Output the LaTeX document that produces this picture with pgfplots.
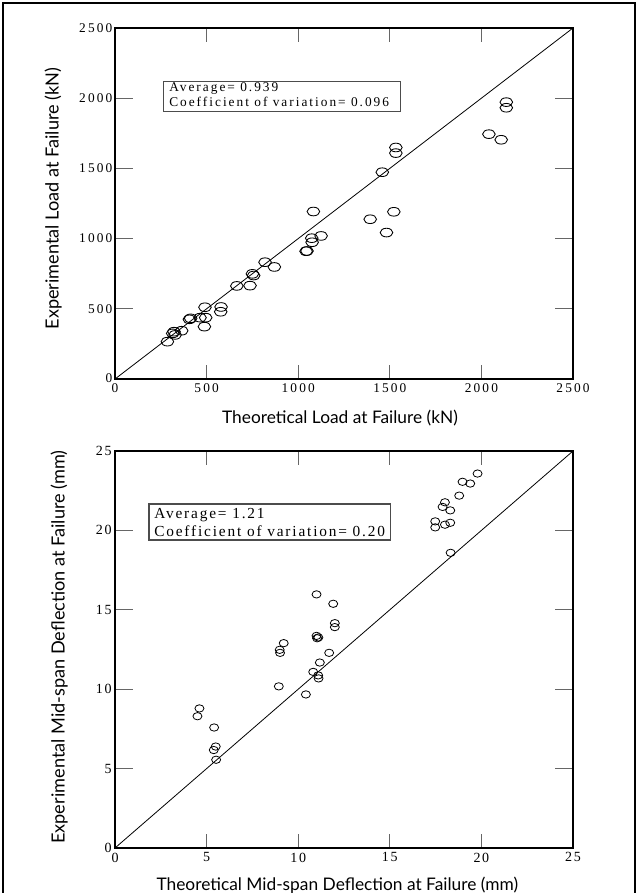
\documentclass[border=0pt]{standalone}
\usepackage{pgfplots}
\pgfplotsset{compat=1.18}
\usepackage{fontspec}
\setmainfont{Liberation Serif}
\newfontfamily\labfont{Lato}
\newfontfamily\tickA[LetterSpace=16]{Liberation Serif}
\newfontfamily\tickB[LetterSpace=12]{Liberation Serif}
\newfontfamily\boxA[LetterSpace=15]{Liberation Serif}
\newfontfamily\boxB[LetterSpace=12]{Liberation Serif}

\pgfplotstableread{
x y
286 266
315 325
322 337
328 314
364 344
406 425
413 432
464 437
495 437
491 511
488 373
579 513
577 479
665 663
737 665
750 749
757 737
819 832
870 798
1043 910
1048 912
1074 1003
1076 974
1083 1193
1125 1019
1393 1138
1459 1473
1482 1043
1522 1191
1533 1649
1533 1609
2041 1744
2108 1704
2136 1972
2136 1932
}\loadtable

\pgfplotstableread{
x y
4.61 8.79
4.50 8.30
5.41 7.59
5.50 6.39
5.39 6.17
5.52 5.56
8.94 10.18
8.99 12.48
9.01 12.29
9.21 12.90
10.42 9.67
10.82 11.09
11.09 10.87
11.11 10.68
11.18 11.68
11.00 15.97
11.00 13.36
11.03 13.21
11.10 13.26
11.69 12.29
11.91 15.38
12.00 14.16
12.00 13.91
17.48 20.57
17.48 20.19
18.01 21.77
17.88 21.48
18.30 21.26
18.01 20.36
18.30 20.48
18.32 18.59
18.79 22.19
18.97 23.06
19.39 22.95
19.79 23.58
}\deftable

\pgfplotsset{
  myax/.style={
    scale only axis,
    width=343.5pt,
    axis line style={line width=1.3pt},
    tick align=inside,
    xtick pos=both, ytick pos=both,
    xtick style={line width=0.8pt, color=black!60, /pgfplots/major tick length=10.5pt},
    ytick style={line width=0.8pt, color=black!60, /pgfplots/major tick length=13.5pt},
    /pgf/number format/assume math mode=true,
    clip=false,
  }
}

\begin{document}
\begin{tikzpicture}
\useasboundingbox (0,0) rectangle (478.5pt,-669.75pt);
\draw[line width=1.1pt] (2.25pt,-669.75pt) -- (2.25pt,-2.25pt) -- (476.25pt,-2.25pt) -- (476.25pt,-669.75pt);

% ---------- top plot ----------
\begin{axis}[myax,
  at={(86.25pt,-284.25pt)}, anchor=south west,
  height=263.25pt,
  xmin=0, xmax=2500, ymin=0, ymax=2500,
  xtick={0,500,1000,1500,2000,2500},
  ytick={0,500,1000,1500,2000,2500},
  xticklabels={\raisebox{-6pt}{0},500,1000,1500,2000,2500},
  yticklabels={\raisebox{2pt}{0}\hspace{5pt},500,1000,1500,2000,2500},
  ticklabel style={font=\tickA\fontsize{10}{12}\selectfont},
  yticklabel style={xshift=1.5pt},
]
\addplot[black, line width=0.6pt] coordinates {(0,0) (2500,2500)};
\addplot[only marks, mark=o, mark size=3.25pt, mark options={xscale=1.46, line width=0.65pt, black}] table[x=x,y=y] {\loadtable};
\end{axis}

% ---------- bottom plot ----------
\begin{axis}[myax,
  at={(86.25pt,-636pt)}, anchor=south west,
  height=297.75pt,
  xmin=0, xmax=25, ymin=0, ymax=25,
  xtick={0,5,10,15,20,25},
  ytick={0,5,10,15,20,25},
  ticklabel style={font=\tickB\fontsize{10.5}{12}\selectfont},
  yticklabel style={xshift=1pt},
]
\addplot[black, line width=0.6pt] coordinates {(0,0) (25,25)};
\addplot[only marks, mark=o, mark size=2.75pt, mark options={xscale=1.23, line width=0.6pt, black}] table[x=x,y=y] {\deftable};
\end{axis}

% ---------- text boxes ----------
\draw[line width=0.8pt, black!70] (122.5pt,-61.3pt) rectangle (300.5pt,-83.8pt);
\node[anchor=base west, inner sep=0pt, font=\boxA\fontsize{10}{12}\selectfont] at (126.75pt,-68.5pt) {Average= 0.939};
\node[anchor=base west, inner sep=0pt, font=\boxA\fontsize{10}{12}\selectfont] at (126.75pt,-79.5pt) {Coefficient of variation= 0.096};

\draw[line width=0.8pt, black!70] (111.75pt,-378pt) rectangle (293pt,-405pt);
\node[anchor=base west, inner sep=0pt, font=\boxB\fontsize{11.5}{13}\selectfont] at (115.5pt,-388.7pt) {Average= 1.21};
\node[anchor=base west, inner sep=0pt, font=\boxB\fontsize{11.5}{13}\selectfont] at (115.5pt,-402.5pt) {Coefficient of variation= 0.20};

% ---------- axis labels ----------
\node[anchor=base, inner sep=0pt, font=\labfont\fontsize{13}{15}\selectfont] at (255pt,-317.25pt) {Theoretical Load at Failure (kN)};
\node[anchor=base, inner sep=0pt, rotate=90, font=\labfont\fontsize{13.6}{15}\selectfont] at (44pt,-148.9pt) {Experimental Load at Failure (kN)};
\node[anchor=base, inner sep=0pt, font=\labfont\fontsize{13}{15}\selectfont] at (253pt,-667.5pt) {Theoretical Mid-span Deflection at Failure (mm)};
\node[anchor=base, inner sep=0pt, rotate=90, font=\labfont\fontsize{13.6}{15}\selectfont] at (48.5pt,-485.25pt) {Experimental Mid-span Deflection at Failure (mm)};
\end{tikzpicture}
\end{document}
